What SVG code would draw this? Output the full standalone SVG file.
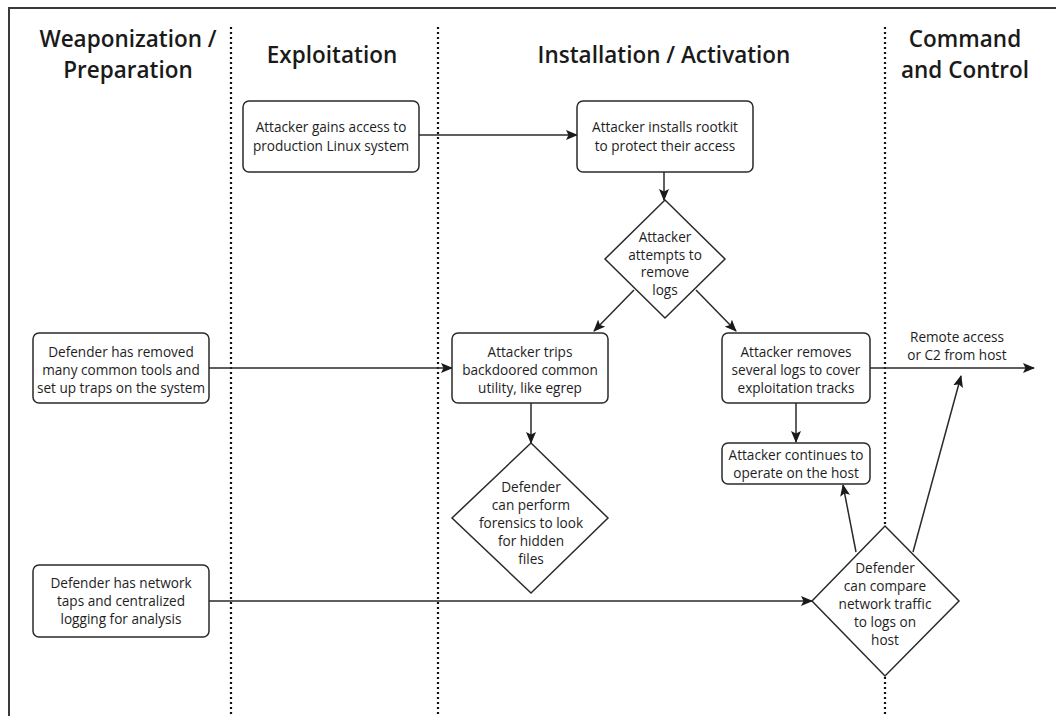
<svg xmlns="http://www.w3.org/2000/svg" width="1056" height="716" viewBox="0 0 1056 716">
  <defs>
    <marker id="arrow" viewBox="0 0 12 10" refX="11" refY="5" markerWidth="12" markerHeight="10" markerUnits="userSpaceOnUse" orient="auto">
      <path d="M0,0 L12,5 L0,10 L2.5,5 z" fill="#1a1a1a"/>
    </marker>
  </defs>
  <style>
    .frame { fill: none; stroke: #3a3a3a; stroke-width: 2; }
    .lane { stroke: #111; stroke-width: 2.2; stroke-dasharray: 2 3; fill: none; }
    .box { fill: #fff; stroke: #2a2a2a; stroke-width: 1.5; }
    .dia { fill: #fff; stroke: #2a2a2a; stroke-width: 1.5; }
    .edge { fill: none; stroke: #2a2a2a; stroke-width: 1.5; marker-end: url(#arrow); }
    .head { font-family: "Open Sans", "Noto Sans", sans-serif; font-size: 22.5px; font-weight: 600; fill: #1a1a1a; text-anchor: middle; }
    .lbl { font-family: "Open Sans", "Noto Sans", sans-serif; font-size: 13.6px; fill: #1e1e1e; text-anchor: middle; }
  </style>

  <rect width="1056" height="716" fill="#fff"/>
  <!-- outer frame (top and left edges) -->
  <path class="frame" d="M9,720 L9,8 L1060,8"/>

  <!-- lane separators -->
  <g id="lanes">
    <line class="lane" x1="231" y1="27" x2="231" y2="716"/>
    <line class="lane" x1="438" y1="27" x2="438" y2="716"/>
    <line class="lane" x1="885" y1="27" x2="885" y2="716"/>
  </g>

  <!-- lane headings -->
  <g id="headings">
    <text class="head" x="128" y="47">Weaponization /</text>
    <text class="head" x="128" y="78">Preparation</text>
    <text class="head" x="332" y="63">Exploitation</text>
    <text class="head" x="664" y="63">Installation / Activation</text>
    <text class="head" x="965" y="47">Command</text>
    <text class="head" x="965" y="78">and Control</text>
  </g>

  <!-- connectors -->
  <g id="connectors">
    <line class="edge" x1="419" y1="135" x2="577" y2="135"/>
    <line class="edge" x1="664" y1="172" x2="664" y2="200"/>
    <line class="edge" x1="634" y1="290" x2="594" y2="331"/>
    <line class="edge" x1="696" y1="290" x2="736" y2="331"/>
    <line class="edge" x1="209" y1="368" x2="452" y2="368"/>
    <line class="edge" x1="870" y1="368" x2="1034" y2="368"/>
    <line class="edge" x1="531" y1="403" x2="531" y2="443"/>
    <line class="edge" x1="796" y1="403" x2="796" y2="442"/>
    <line class="edge" x1="209" y1="601" x2="812" y2="601"/>
    <line class="edge" x1="856" y1="552" x2="843" y2="485"/>
    <line class="edge" x1="913" y1="552" x2="961" y2="376"/>
    <text class="lbl" x="957" y="342">Remote access</text>
    <text class="lbl" x="957" y="360">or C2 from host</text>
  </g>

  <g id="n-gain-access">
    <rect class="box" x="243" y="101" width="176" height="71" rx="6"/>
    <text class="lbl" x="331" y="132">Attacker gains access to</text>
    <text class="lbl" x="331" y="151">production Linux system</text>
  </g>

  <g id="n-rootkit">
    <rect class="box" x="577" y="101" width="176" height="71" rx="6"/>
    <text class="lbl" x="665" y="132">Attacker installs rootkit</text>
    <text class="lbl" x="665" y="151">to protect their access</text>
  </g>

  <g id="n-remove-logs">
    <polygon class="dia" points="665,200 725,259 665,318 605,259"/>
    <text class="lbl" x="665" y="242">Attacker</text>
    <text class="lbl" x="665" y="260">attempts to</text>
    <text class="lbl" x="665" y="277">remove</text>
    <text class="lbl" x="665" y="295">logs</text>
  </g>

  <g id="n-traps">
    <rect class="box" x="33" y="333" width="176" height="70" rx="6"/>
    <text class="lbl" x="121" y="357">Defender has removed</text>
    <text class="lbl" x="121" y="375">many common tools and</text>
    <text class="lbl" x="121" y="393">set up traps on the system</text>
  </g>

  <g id="n-trips-backdoor">
    <rect class="box" x="452" y="333" width="156" height="70" rx="6"/>
    <text class="lbl" x="530" y="357">Attacker trips</text>
    <text class="lbl" x="530" y="375">backdoored common</text>
    <text class="lbl" x="530" y="393">utility, like egrep</text>
  </g>

  <g id="n-removes-logs">
    <rect class="box" x="722" y="333" width="148" height="70" rx="6"/>
    <text class="lbl" x="796" y="357">Attacker removes</text>
    <text class="lbl" x="796" y="375">several logs to cover</text>
    <text class="lbl" x="796" y="393">exploitation tracks</text>
  </g>

  <g id="n-forensics">
    <polygon class="dia" points="531,443 608,518 531,593 452,518"/>
    <text class="lbl" x="531" y="492">Defender</text>
    <text class="lbl" x="531" y="510">can perform</text>
    <text class="lbl" x="531" y="528">forensics to look</text>
    <text class="lbl" x="531" y="546">for hidden</text>
    <text class="lbl" x="531" y="564">files</text>
  </g>

  <g id="n-continues">
    <rect class="box" x="722" y="443" width="148" height="41" rx="6"/>
    <text class="lbl" x="796" y="460">Attacker continues to</text>
    <text class="lbl" x="796" y="478">operate on the host</text>
  </g>

  <g id="n-network-taps">
    <rect class="box" x="33" y="565" width="176" height="72" rx="6"/>
    <text class="lbl" x="121" y="588">Defender has network</text>
    <text class="lbl" x="121" y="606">taps and centralized</text>
    <text class="lbl" x="121" y="624">logging for analysis</text>
  </g>

  <g id="n-compare">
    <polygon class="dia" points="885,526 959,601 885,676 812,601"/>
    <text class="lbl" x="885" y="573">Defender</text>
    <text class="lbl" x="885" y="591">can compare</text>
    <text class="lbl" x="885" y="609">network traffic</text>
    <text class="lbl" x="885" y="627">to logs on</text>
    <text class="lbl" x="885" y="645">host</text>
  </g>
</svg>
